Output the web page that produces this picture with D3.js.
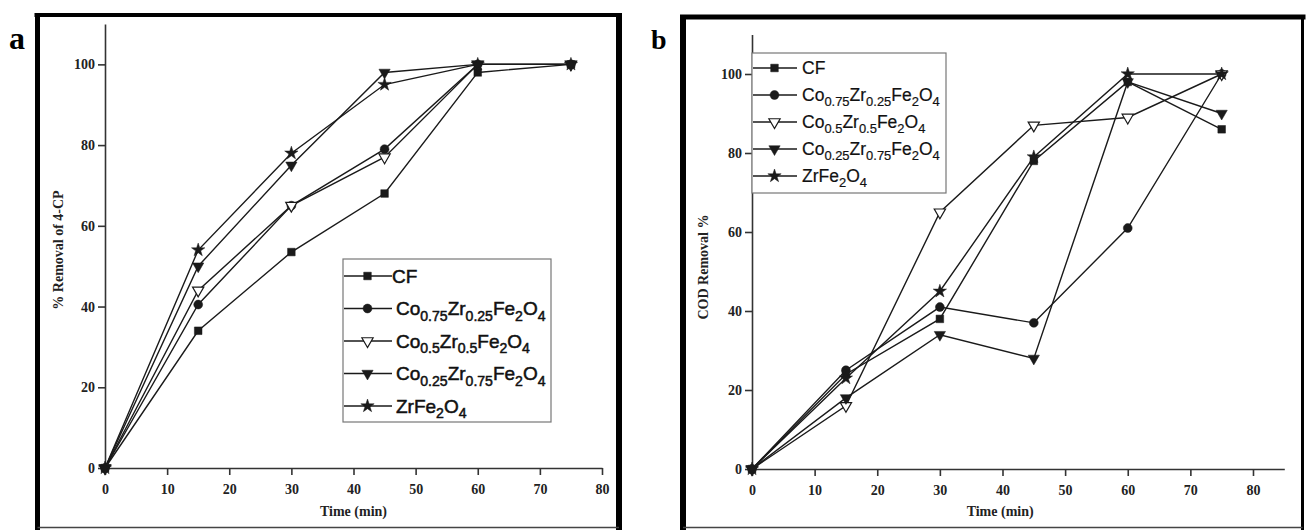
<!DOCTYPE html>
<html>
<head>
<meta charset="utf-8">
<script src="https://cdn.jsdelivr.net/npm/d3@7"></script>
<style>
  body { margin: 0; background: #fff; }
  svg { display: block; }
</style>
</head>
<body>
<div id="chart"></div>
<script>
// sampling times (min)
const times = [0, 15, 30, 45, 60, 75]

const seriesNames = ['CF', 'Co_{0.75}Zr_{0.25}Fe_{2}O_{4}', 'Co_{0.5}Zr_{0.5}Fe_{2}O_{4}', 'Co_{0.25}Zr_{0.75}Fe_{2}O_{4}', 'ZrFe_{2}O_{4}']
const seriesMarkers = ['square', 'circle', 'triangleOpen', 'triangle', 'star']

// panel a: % removal of 4-CP
const removalCF = [0, 34, 53.5, 68, 98, 100]
const removalCo075 = [0, 40.5, 65, 79, 100, 100]
const removalCo05 = [0, 44, 65, 77, 100, 100]
const removalCo025 = [0, 50, 75, 98, 100, 100]
const removalZr = [0, 54, 78, 95, 100, 100]

// panel b: COD removal %
const codCF = [0, 24, 38, 78, 98, 86]
const codCo075 = [0, 25, 41, 37, 61, 100]
const codCo05 = [0, 16, 65, 87, 89, 100]
const codCo025 = [0, 18, 34, 28, 98, 90]
const codZr = [0, 23, 45, 79, 100, 100]

const xTicks = [0, 10, 20, 30, 40, 50, 60, 70, 80]
const yTicks = [0, 20, 40, 60, 80, 100]

const svg = d3.select('#chart').append('svg')
  .attr('width', 1306)
  .attr('height', 530)

const INK = '#1a1a1a'
const SERIF = '"Liberation Serif", "Times New Roman", serif'

function markerPath (type) {
  const sym = {
    square: d3.symbol(d3.symbolSquare, 58),
    circle: d3.symbol(d3.symbolCircle, 62),
    triangle: d3.symbol(d3.symbolTriangle, 55),
    triangleOpen: d3.symbol(d3.symbolTriangle, 55),
    star: d3.symbol(d3.symbolStar, 55)
  }
  return sym[type]()
}

function drawMarker (g, type, x, y) {
  const rot = (type === 'triangle' || type === 'triangleOpen') ? 180 : 0
  g.append('path')
    .attr('d', markerPath(type))
    .attr('transform', `translate(${x},${y}) rotate(${rot})`)
    .attr('fill', type === 'triangleOpen' ? '#fff' : INK)
    .attr('stroke', INK)
    .attr('stroke-width', type === 'triangleOpen' ? 1.2 : 0.5)
}

// text with chemical subscripts written as X_{n}
function chemText (textSel, label, size) {
  const parts = label.split(/_\{([^}]*)\}/)
  const subSize = size * 0.74
  const shift = size * 0.28
  let down = false
  parts.forEach((p, i) => {
    if (p === '') return
    const isSub = i % 2 === 1
    const t = textSel.append('tspan').text(p)
      .attr('font-size', isSub ? subSize : size)
    if (isSub && !down) { t.attr('dy', shift); down = true }
    if (!isSub && down) { t.attr('dy', -shift); down = false }
  })
}

function drawFrame (f) {
  const g = svg.append('g')
  g.append('line').attr('x1', f.left).attr('x2', f.left).attr('y1', f.top - 2).attr('y2', 530)
    .attr('stroke', '#000').attr('stroke-width', f.lw)
  g.append('line').attr('x1', f.left - 3).attr('x2', f.right + 3).attr('y1', f.top).attr('y2', f.top)
    .attr('stroke', '#000').attr('stroke-width', f.tw)
  g.append('line').attr('x1', f.right).attr('x2', f.right).attr('y1', f.top - 2).attr('y2', 530)
    .attr('stroke', '#000').attr('stroke-width', f.rw)
  g.append('line').attr('x1', f.left).attr('x2', f.right).attr('y1', 527.5).attr('y2', 527.5)
    .attr('stroke', '#444').attr('stroke-width', 1.5)
}

function drawPanel (p) {
  const x = d3.scaleLinear().domain([0, p.xMax]).range(p.xRange)
  const y = d3.scaleLinear().domain([0, 110]).range(p.yRange)
  const g = svg.append('g')

  // axes
  const xAxis = g.append('g')
    .attr('transform', `translate(0,${y(0)})`)
    .call(d3.axisBottom(x).tickValues(xTicks).tickSize(7).tickSizeOuter(0).tickPadding(9))
  const yAxis = g.append('g')
    .attr('transform', `translate(${x(0)},0)`)
    .call(d3.axisLeft(y).tickValues(yTicks).tickSize(7).tickSizeOuter(0).tickPadding(3))

  ;[xAxis, yAxis].forEach(a => {
    a.select('.domain').attr('stroke', '#333').attr('stroke-width', 1.6)
    a.selectAll('.tick line').attr('stroke', '#333').attr('stroke-width', 1.6)
    a.selectAll('.tick text')
      .attr('fill', '#222')
      .style('font-family', SERIF)
      .style('font-weight', 'bold')
      .style('font-size', '14px')
  })

  // axis titles
  g.append('text')
    .attr('x', (p.xRange[0] + p.xRange[1]) / 2 + p.xTitleShift)
    .attr('y', 516)
    .attr('text-anchor', 'middle')
    .attr('fill', '#222')
    .style('font-family', SERIF)
    .style('font-weight', 'bold')
    .style('font-size', '14px')
    .text('Time (min)')

  g.append('text')
    .attr('transform', `translate(${p.yTitleX},${p.yTitleY}) rotate(-90)`)
    .attr('text-anchor', 'middle')
    .attr('fill', '#222')
    .style('font-family', SERIF)
    .style('font-weight', 'bold')
    .style('font-size', '14px')
    .text(p.yTitle)

  // series lines
  const line = d3.line().x((d, i) => x(times[i])).y(d => y(d))
  p.series.forEach(values => {
    g.append('path')
      .attr('d', line(values))
      .attr('fill', 'none')
      .attr('stroke', INK)
      .attr('stroke-width', 1.4)
  })
  p.series.forEach((values, s) => {
    values.forEach((v, i) => drawMarker(g, seriesMarkers[s], x(times[i]), y(v)))
  })

  // legend
  const L = p.legend
  g.append('rect')
    .attr('x', L.x).attr('y', L.y).attr('width', L.w).attr('height', L.h)
    .attr('fill', '#fff').attr('stroke', '#777').attr('stroke-width', 1.2)
  seriesNames.forEach((name, i) => {
    const cy = L.y + L.first + i * L.step
    g.append('line')
      .attr('x1', L.x + 1).attr('x2', L.x + L.lineLen)
      .attr('y1', cy).attr('y2', cy)
      .attr('stroke', INK).attr('stroke-width', 1.4)
    drawMarker(g, seriesMarkers[i], L.x + L.lineLen / 2, cy)
    const t = g.append('text')
      .attr('x', L.x + L.lineLen + (i === 0 ? L.cfGap : L.gap))
      .attr('y', cy + L.size * 0.36)
      .attr('fill', '#111')
      .attr('stroke', '#111')
      .attr('stroke-width', L.weight)
      .style('font-family', '"Liberation Sans", Arial, sans-serif')
      .style('font-size', L.size + 'px')
    chemText(t, name, L.size)
  })

  // panel letter
  svg.append('text')
    .attr('x', p.letterX).attr('y', 49)
    .attr('fill', '#000')
    .style('font-family', SERIF)
    .style('font-weight', 'bold')
    .style('font-size', p.letterSize + 'px')
    .text(p.letter)
}

drawFrame({ left: 37.5, right: 619, top: 15, lw: 5, tw: 4, rw: 6 })
drawFrame({ left: 683, right: 1302.5, top: 17, lw: 6, tw: 5, rw: 3 })

drawPanel({
  letter: 'a',
  letterX: 9,
  letterSize: 32,
  xMax: 80,
  xRange: [105, 602],
  yRange: [468, 24],
  xTitleShift: 0,
  yTitle: '% Removal of 4-CP',
  yTitleX: 63,
  yTitleY: 250,
  series: [removalCF, removalCo075, removalCo05, removalCo025, removalZr],
  legend: { x: 343, y: 259, w: 208, h: 163, first: 17, step: 32.5, lineLen: 49, gap: 4, cfGap: 0, size: 19, weight: 0.5 }
})

drawPanel({
  letter: 'b',
  letterX: 651,
  letterSize: 28,
  xMax: 85,
  xRange: [752, 1284.3],
  yRange: [469, 34.5],
  xTitleShift: -18,
  yTitle: 'COD Removal %',
  yTitleX: 708,
  yTitleY: 267,
  series: [codCF, codCo075, codCo05, codCo025, codZr],
  legend: { x: 752, y: 53, w: 194, h: 140, first: 15, step: 27, lineLen: 45, gap: 5, cfGap: 5, size: 17.5, weight: 0.2 }
})
</script>
</body>
</html>
